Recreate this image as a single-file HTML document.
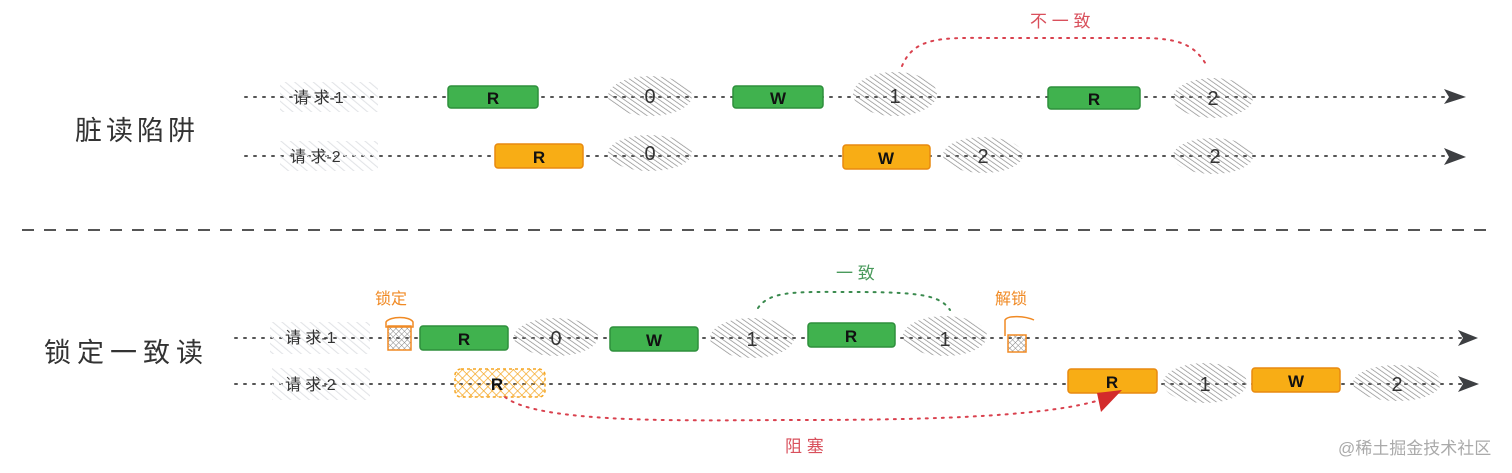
<!DOCTYPE html>
<html><head><meta charset="utf-8"><style>
html,body{margin:0;padding:0;background:#fff;}
svg{display:block;}
text{font-family:"Liberation Sans","Noto Sans CJK SC",sans-serif;}
</style></head><body>
<svg width="1512" height="473" viewBox="0 0 1512 473" xmlns="http://www.w3.org/2000/svg">
<defs>
<pattern id="hd" width="4" height="4" patternUnits="userSpaceOnUse" patternTransform="rotate(-55)">
<line x1="0" y1="0" x2="0" y2="4" stroke="#8a8a8a" stroke-width="1.4"/>
</pattern>
<pattern id="hl" width="6" height="6" patternUnits="userSpaceOnUse" patternTransform="rotate(-50)">
<line x1="0" y1="0" x2="0" y2="6" stroke="#e2e4e7" stroke-width="2.2"/>
</pattern>
<pattern id="xo" width="6" height="6" patternUnits="userSpaceOnUse" patternTransform="rotate(45)">
<line x1="0" y1="0" x2="0" y2="6" stroke="#f5a623" stroke-width="1.4"/>
<line x1="0" y1="0" x2="6" y2="0" stroke="#f5a623" stroke-width="1.4"/>
</pattern>
<pattern id="xg" width="4" height="4" patternUnits="userSpaceOnUse" patternTransform="rotate(45)">
<line x1="0" y1="0" x2="0" y2="4" stroke="#888" stroke-width="1"/>
<line x1="0" y1="0" x2="4" y2="0" stroke="#888" stroke-width="1"/>
</pattern>
</defs>
<g fill="none" stroke="#555" stroke-width="2" stroke-dasharray="2 7" stroke-linecap="round">
<line x1="245" y1="97" x2="1448" y2="97"/>
<line x1="245" y1="156" x2="1448" y2="156"/>
<line x1="235" y1="338" x2="1462" y2="338"/>
<line x1="235" y1="384" x2="1462" y2="384"/>
</g>
<g fill="#3d3f42">
<path d="M1444 89 L1466 97 L1444 104 L1449 97Z"/>
<path d="M1444 148 L1466 157 L1444 165 L1449 157Z"/>
<path d="M1458 330 L1478 338 L1458 346 L1463 338Z"/>
<path d="M1458 376 L1479 384 L1458 392 L1463 384Z"/>
</g>
<line x1="22" y1="230" x2="1492" y2="230" stroke="#555" stroke-width="2" stroke-dasharray="12 10"/>
<g fill="url(#hl)">
<rect x="280" y="82" width="98" height="30"/>
<rect x="280" y="141" width="98" height="30"/>
<rect x="270" y="322" width="100" height="32"/>
<rect x="272" y="368" width="98" height="32"/>
</g>
<g fill="url(#hd)">
<ellipse cx="650" cy="96" rx="42" ry="20"/>
<ellipse cx="650" cy="153" rx="42" ry="18"/>
<ellipse cx="895" cy="94" rx="42" ry="22"/>
<ellipse cx="983" cy="155" rx="40" ry="18"/>
<ellipse cx="1213" cy="98" rx="40" ry="20"/>
<ellipse cx="1213" cy="156" rx="40" ry="18"/>
<ellipse cx="556" cy="337" rx="42" ry="19"/>
<ellipse cx="752" cy="338" rx="42" ry="20"/>
<ellipse cx="945" cy="336" rx="42" ry="20"/>
<ellipse cx="1205" cy="383" rx="42" ry="20"/>
<ellipse cx="1397" cy="383" rx="44" ry="18"/>
</g>
<g font-size="16" fill="#333">
<text x="293" y="103">请 求-1</text>
<text x="290" y="162">请 求-2</text>
<text x="285" y="343">请 求-1</text>
<text x="285" y="390">请 求-2</text>
</g>
<g stroke-width="1.5">
<rect x="448" y="86" width="90" height="22" rx="3" fill="#40b24e" stroke="#2e8f3c"/>
<rect x="733" y="86" width="90" height="22" rx="3" fill="#40b24e" stroke="#2e8f3c"/>
<rect x="1048" y="87" width="92" height="22" rx="3" fill="#40b24e" stroke="#2e8f3c"/>
<rect x="495" y="144" width="88" height="24" rx="3" fill="#f8ad15" stroke="#e88a10"/>
<rect x="843" y="145" width="87" height="24" rx="3" fill="#f8ad15" stroke="#e88a10"/>
<rect x="420" y="326" width="88" height="24" rx="3" fill="#40b24e" stroke="#2e8f3c"/>
<rect x="610" y="327" width="88" height="24" rx="3" fill="#40b24e" stroke="#2e8f3c"/>
<rect x="808" y="323" width="87" height="24" rx="3" fill="#40b24e" stroke="#2e8f3c"/>
<rect x="1068" y="369" width="89" height="24" rx="3" fill="#f8ad15" stroke="#e88a10"/>
<rect x="1252" y="368" width="88" height="24" rx="3" fill="#f8ad15" stroke="#e88a10"/>
<rect x="455" y="369" width="90" height="28" rx="6" fill="url(#xo)" stroke="#f5a623" stroke-dasharray="3 3"/>
</g>
<g font-size="17" font-weight="bold" fill="#111" text-anchor="middle">
<text x="493" y="104">R</text><text x="778" y="104">W</text><text x="1094" y="105">R</text>
<text x="539" y="163">R</text><text x="886" y="164">W</text>
<text x="464" y="345">R</text><text x="654" y="346">W</text><text x="851" y="342">R</text>
<text x="1112" y="388">R</text><text x="1296" y="387">W</text><text x="497" y="390">R</text>
</g>
<g font-size="20" fill="#333" text-anchor="middle">
<text x="650" y="103">0</text><text x="650" y="160">0</text>
<text x="895" y="103">1</text><text x="983" y="163">2</text>
<text x="1213" y="105">2</text><text x="1215" y="163">2</text>
<text x="556" y="345">0</text><text x="752" y="346">1</text><text x="945" y="346">1</text>
<text x="1205" y="391">1</text><text x="1397" y="391">2</text>
</g>
<path d="M902 66 C915 35 945 38 1000 38 L1140 38 C1180 38 1195 45 1207 66" fill="none" stroke="#d9414e" stroke-width="2" stroke-dasharray="2 6" stroke-linecap="round"/>
<text x="1030" y="27" font-size="17" fill="#d9505c">不 一 致</text>
<path d="M758 308 C770 290 800 292 850 292 C920 292 940 295 950 310" fill="none" stroke="#3a8a4e" stroke-width="2" stroke-dasharray="2 6" stroke-linecap="round"/>
<text x="836" y="279" font-size="17" fill="#4a9a5c">一 致</text>
<path d="M505 397 C540 425 700 420 800 420 C950 420 1050 415 1100 400" fill="none" stroke="#d9414e" stroke-width="2" stroke-dasharray="2 6" stroke-linecap="round"/>
<path d="M1097 393 L1122 390 L1101 412Z" fill="#d32b2b"/>
<text x="785" y="452" font-size="17" fill="#d9505c">阻 塞</text>
<g stroke="#f08a24" stroke-width="1.5" fill="none">
<rect x="388" y="326" width="23" height="24" fill="url(#xg)"/>
<path d="M386 322 C390 316 410 316 413 322 L413 327 L386 327Z"/>
<rect x="1008" y="335" width="18" height="17" fill="url(#xg)"/>
<path d="M1005 336 L1005 320 C1008 315 1025 316 1034 320"/>
</g>
<text x="375" y="304" font-size="16" fill="#f08a24">锁定</text>
<text x="995" y="304" font-size="16" fill="#f08a24">解锁</text>
<text x="75" y="140" font-size="27" fill="#333" letter-spacing="4">脏读陷阱</text>
<text x="44" y="362" font-size="27" fill="#333" letter-spacing="6">锁定一致读</text>
<text x="1338" y="454" font-size="17" fill="#aaa">@稀土掘金技术社区</text>
</svg>
</body></html>
